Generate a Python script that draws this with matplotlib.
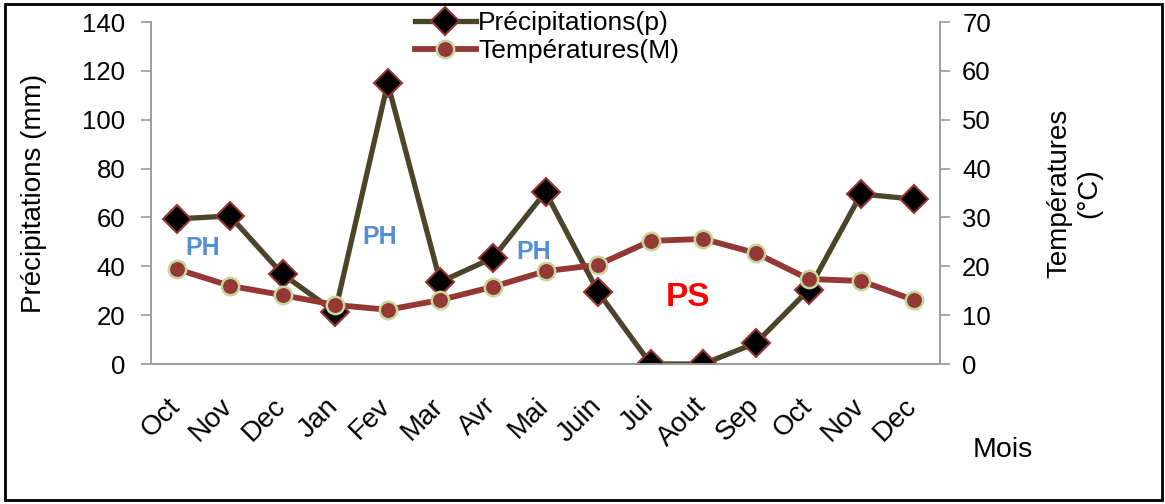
import matplotlib
matplotlib.use("Agg")
import matplotlib.pyplot as plt
from matplotlib.patches import Rectangle
from matplotlib.transforms import ScaledTranslation, blended_transform_factory

plt.rcParams['font.family'] = ['Liberation Sans', 'DejaVu Sans']

months = ["Oct", "Nov", "Dec", "Jan", "Fev", "Mar", "Avr", "Mai", "Juin",
          "Jui", "Aout", "Sep", "Oct", "Nov", "Dec"]
precip = [59.4, 60.6, 36.8, 21.3, 115.0, 33.6, 43.4, 70.4, 29.5,
          0.0, 0.0, 8.6, 30.3, 69.6, 67.5]
temp = [19.4, 16.0, 14.1, 12.1, 11.1, 13.1, 15.8, 19.0, 20.3,
        25.2, 25.6, 22.7, 17.4, 17.0, 13.1]
left_ticks = [0, 20, 40, 60, 80, 100, 120, 140]
right_ticks = [0, 10, 20, 30, 40, 50, 60, 70]
annotations = [("PH", 0.49, 47.5, "#558ED5", 18),
               ("PH", 3.84, 52.0, "#558ED5", 18),
               ("PH", 6.78, 45.8, "#558ED5", 18),
               ("PS", 9.71, 27.4, "#FF0000", 24)]

W, H = 1165, 504
fig = plt.figure(figsize=(W / 100, H / 100), dpi=100)
fig.patches.append(Rectangle((5 / W, 4 / H), 1157 / W, 496 / H, transform=fig.transFigure,
                             fill=False, edgecolor='black', linewidth=2))

ax = fig.add_axes([151 / W, (H - 364) / H, (940 - 151) / W, 342 / H])
ax2 = ax.twinx()
x = list(range(len(months)))

l1, = ax.plot(x, precip, color='#4A452A', lw=3.8, marker='D', ms=14,
              mfc='black', mec='#953735', mew=1.5, label='Précipitations(p)', zorder=3)
l2, = ax2.plot(x, temp, color='#953735', lw=4.2, marker='o', ms=12.5,
               mfc='#953735', mec='#C3D69B', mew=1.8, label='Températures(M)', zorder=3)

ax.set_xlim(-0.5, len(months) - 0.5)
ax.set_ylim(0, 140)
ax2.set_ylim(0, 70)
ax.set_yticks(left_ticks)
ax2.set_yticks(right_ticks)
ax.set_xticks(x)
ax.set_xticklabels([])
lab_trans = blended_transform_factory(ax.transData, ax.transAxes) + \
    ScaledTranslation(-10 / 100, -29 / 100, fig.dpi_scale_trans)
for xi, m in zip(x, months):
    ax.text(xi, 0, m, transform=lab_trans, rotation=45, ha='right', va='top',
            rotation_mode='anchor', fontsize=20, clip_on=False)

for a in (ax, ax2):
    for s in a.spines.values():
        s.set_color('#A0A0A0')
        s.set_linewidth(1.3)
    a.spines['top'].set_visible(False)
    a.tick_params(axis='y', labelsize=18.5, color='#A0A0A0', length=7, width=1.3, pad=9)
ax.tick_params(axis='y', pad=11.5)
ax.tick_params(axis='x', length=0)

ax.set_ylabel('Précipitations (mm)', fontsize=20)
ax.yaxis.set_label_coords(-0.132, 0.5)
ax2.set_ylabel('Températures\n(°C)', fontsize=20, rotation=90, va='center')
ax2.yaxis.set_label_coords(1.170, 0.5)

for txt, xi, yi, col, fs in annotations:
    ax.text(xi, yi, txt, color=col, fontsize=fs, fontweight='bold', ha='center', va='center', zorder=5)

fig.text(1003 / W, 1 - 450 / H, 'Mois', fontsize=20.5, ha='center', va='center')

fig.legend(handles=[l1, l2], loc='upper center', bbox_to_anchor=(547 / W, 1 + 5 / H),
           frameon=False, fontsize=19, handlelength=2.3, labelspacing=0.15,
           handletextpad=0.1, borderpad=0.1)

fig.savefig('out.png', dpi=100)
